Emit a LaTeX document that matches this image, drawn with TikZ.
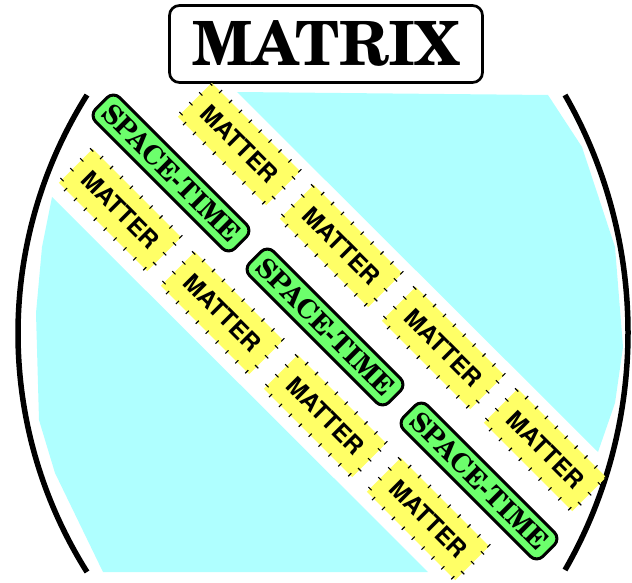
\documentclass[tikz,border=0pt]{standalone}
\usepackage[T1]{fontenc}
\definecolor{matteryellow}{RGB}{255,255,102}
\definecolor{stgreen}{RGB}{108,255,108}
\definecolor{vacuumcyan}{RGB}{175,255,255}

\begin{document}
\begin{tikzpicture}[x=1pt, y=-1pt,
  titlebox/.style={draw, line width=2.7pt, rounded corners=10pt, minimum width=313pt,
    minimum height=77pt, inner sep=0pt, font=\fontfamily{pnc}\fontseries{b}\fontsize{61}{61}\selectfont},
  stbox/.style={draw, fill=stgreen, line width=3pt, rounded corners=9pt, rotate=-45,
    minimum width=197pt, minimum height=34pt, inner sep=0pt,
    font=\fontfamily{pnc}\fontseries{b}\fontsize{26.5}{26.5}\selectfont},
  matter/.style={draw, fill=matteryellow, line width=4.5pt, dash pattern=on 1.1pt off 12.9pt,
    rotate=-45, minimum width=125pt, minimum height=48pt, inner sep=0pt,
    font=\fontfamily{phv}\fontseries{b}\fontsize{24}{24}\selectfont},
  paren/.style={line width=5.5pt},
  vacuum/.style={fill=vacuumcyan}]
\useasboundingbox (0,0) rectangle (632,583);
% empty regions (cyan)
\fill[vacuum] (237,92) -- (548,95) -- (582,147) -- (615,247) -- (623,347) -- (615,403) -- (598,452) -- cycle;
\fill[vacuum] (52,197) -- (42,247) -- (36,313) -- (39,420) -- (55,473) -- (103,572) -- (428,572) -- cycle;
% matrix brackets
\draw[paren] (87,95) .. controls (-5,241) and (-5,426) .. (87,572);
\draw[paren] (565,95) .. controls (649,241) and (649,424) .. (565,570);
% title
\node[titlebox] (title) at (326,44) {MATRIX};
% diagonal: space-time
\foreach \x/\y [count=\i] in {171/173,325/327,479/481}{
  \node[stbox] (st\i) at (\x,\y) {SPACE-TIME};
}
% matter above and below the diagonal
\foreach \x/\y [count=\i] in {239/144,341/246,443/348,545/450}{
  \node[matter] (mtop\i) at (\x,\y) {MATTER};
}
\foreach \x/\y [count=\i] in {120/210,222/313,325/416,428/519}{
  \node[matter] (mbot\i) at (\x,\y) {MATTER};
}
\end{tikzpicture}
\end{document}
